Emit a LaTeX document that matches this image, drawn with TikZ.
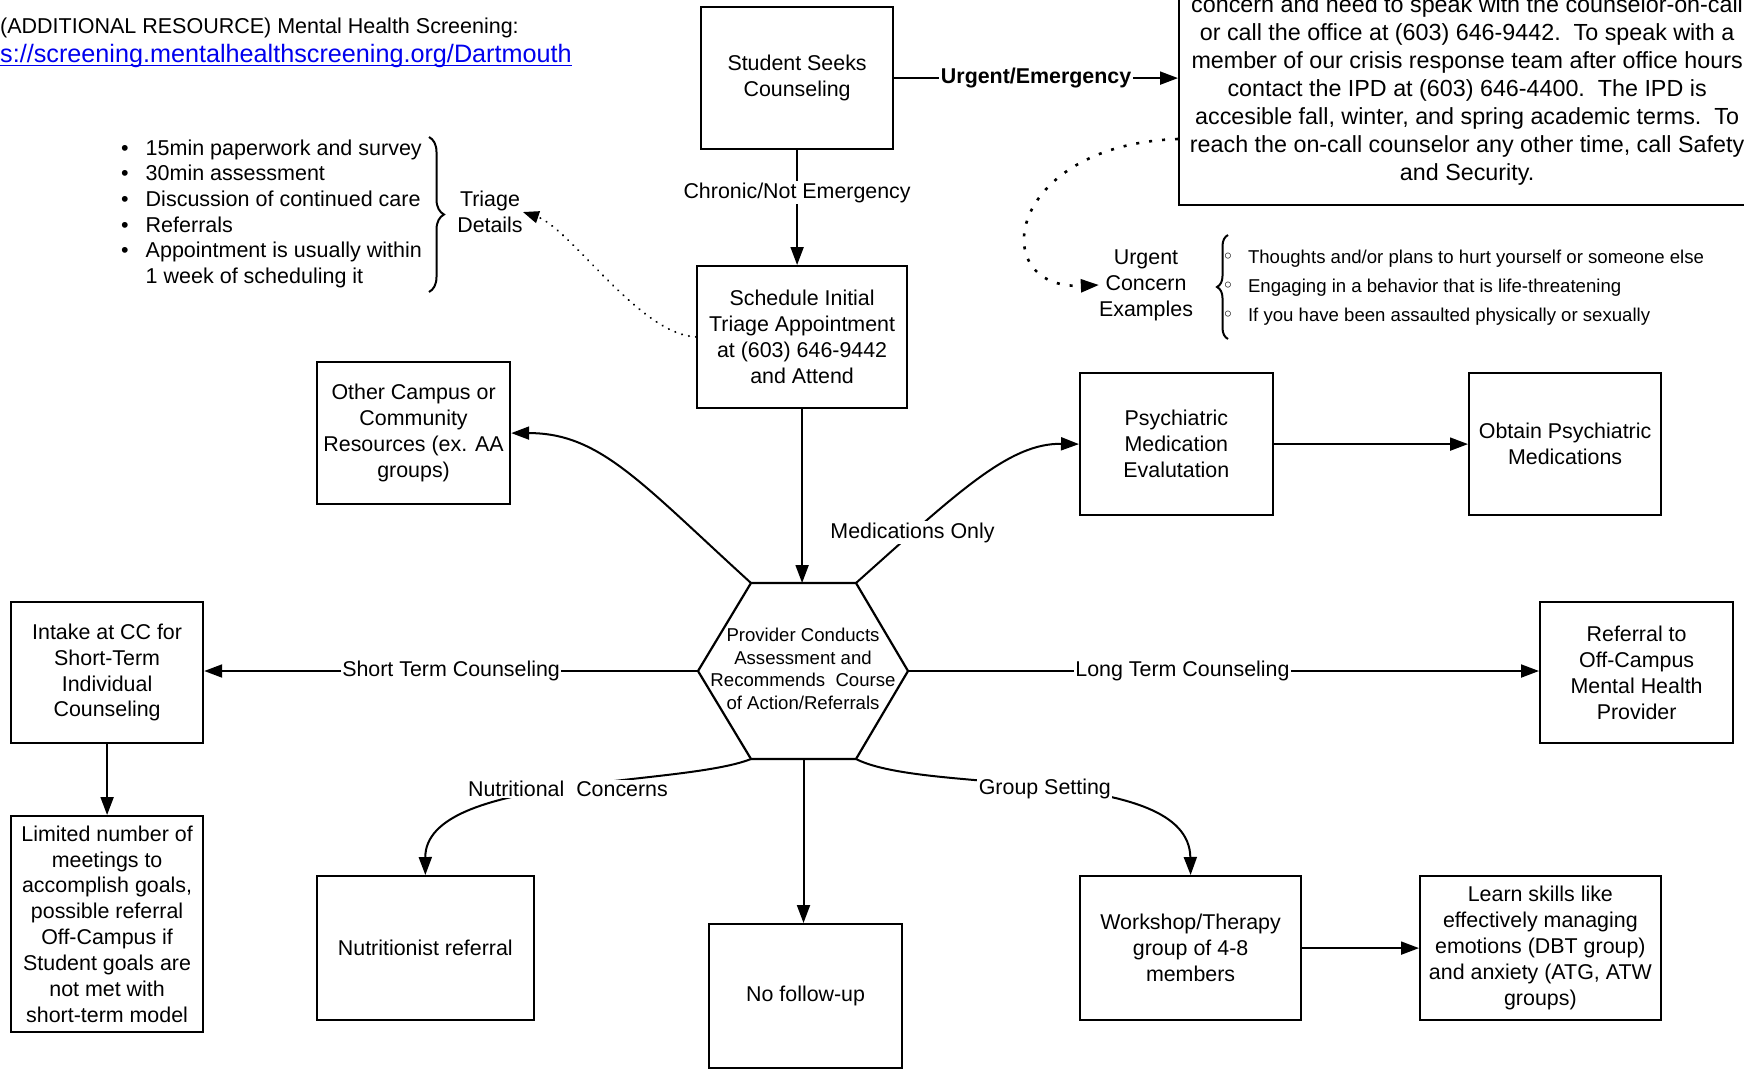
\documentclass[tikz,border=0pt]{standalone}
\usepackage{fontspec}
\setmainfont{Liberation Sans}
\newfontfamily\dejavu{DejaVu Sans}
\usetikzlibrary{arrows.meta,decorations.pathreplacing,calc}
\definecolor{linkblue}{RGB}{0,0,238}
\newcommand\myfbody{\fontsize{21.4}{25.9}\selectfont}
\newcommand\myfsmall{\fontsize{18.6}{22.6}\selectfont}
\newcommand\myfbig{\fontsize{23.3}{28}\selectfont}
\newcommand\mycirc{{\dejavu\fontsize{20}{20}\selectfont ◦}}
\tikzset{
  box/.style={draw, line width=2.2pt, align=center, inner sep=0pt, font=\myfbody, anchor=north west},
  txt/.style={align=center, inner sep=0pt, font=\myfbody},
  plain/.style={inner sep=0pt},
  conn/.style={line width=2pt, -{Triangle[length=18pt,width=13pt]}},
  lbl/.style={fill=white, inner sep=1.5pt, font=\myfbody},
  dotsmall/.style={line width=2.2pt, line cap=round, dash pattern=on 0.1pt off 7pt, -{Triangle[length=16pt,width=12pt]}},
  dotbig/.style={line width=2.6pt, dash pattern=on 3pt off 10pt, -{Triangle[length=18pt,width=13pt]}},
  bracestyle/.style={line width=2pt, decorate},
}
\begin{document}
\begin{tikzpicture}[x=1pt,y=-1pt]
\clip (0,0) rectangle (1744,1070);
\fill[white] (0,0) rectangle (1744,1070);

% header
\node[plain, anchor=base west, font=\fontsize{21.5}{26}\selectfont] (hdr) at (0,34) {(ADDITIONAL RESOURCE) Mental Health Screening:};
\node[plain, anchor=base west, text=linkblue, font=\fontsize{25.2}{30}\selectfont] (url) at (0,63) {s://screening.mentalhealthscreening.org/Dartmouth};
\draw[linkblue, line width=1.6pt] ($(url.base west)+(0,2.5)$) -- ($(url.base east)+(0,2.5)$);

% boxes
\node[box, minimum width=192pt, minimum height=142pt] (student) at (700,6) {Student Seeks\\Counseling};
\node[box, font=\myfbig, minimum width=576pt, minimum height=228.5pt] (bigbox) at (1178,-25) {concern and need to speak with the counselor-on-call\\or call the office at (603) 646-9442.\ \ To speak with a\\member of our crisis response team after office hours\\contact the IPD at (603) 646-4400.\ \ The IPD is\\accesible fall, winter, and spring academic terms.\ \ To\\reach the on-call counselor any other time, call Safety\\and Security.};
\node[box, minimum width=210pt, minimum height=141.5pt] (sched) at (696,265) {Schedule Initial\\Triage Appointment\\at (603) 646-9442\\and Attend};
\node[box, minimum width=193pt, minimum height=142pt] (other) at (316,361) {Other Campus or\\Community\\Resources (ex. AA\\groups)};
\node[box, minimum width=192.5pt, minimum height=142pt] (psych) at (1079,372) {Psychiatric\\Medication\\Evalutation};
\node[box, minimum width=192pt, minimum height=142pt] (obtain) at (1468,372) {Obtain Psychiatric\\Medications};
\node[box, minimum width=192pt, minimum height=141pt] (intake) at (10,601) {Intake at CC for\\Short-Term\\Individual\\Counseling};
\node[box, minimum width=192pt, minimum height=216pt] (limited) at (10,815) {Limited number of\\meetings to\\accomplish goals,\\possible referral\\Off-Campus if\\Student goals are\\not met with\\short-term model};
\node[box, minimum width=193pt, minimum height=141pt] (referral) at (1539,601) {Referral to\\Off-Campus\\Mental Health\\Provider};
\node[box, minimum width=216.5pt, minimum height=144pt] (nutri) at (316,875) {Nutritionist referral};
\node[box, minimum width=193pt, minimum height=144pt] (nofollow) at (708,923) {No follow-up};
\node[box, minimum width=221pt, minimum height=144pt] (workshop) at (1079,875) {Workshop/Therapy\\group of 4-8\\members};
\node[box, minimum width=240.5pt, minimum height=144pt] (learn) at (1419,875) {Learn skills like\\effectively managing\\emotions (DBT group)\\and anxiety (ATG, ATW\\groups)};

% hexagon
\coordinate (hexL) at (698,671);
\coordinate (hexTL) at (751,583);
\coordinate (hexTR) at (856,583);
\coordinate (hexR) at (908,671);
\coordinate (hexBR) at (856,759);
\coordinate (hexBL) at (751,759);
\coordinate (hexB) at (803.5,759);
\draw[line width=2.2pt] (hexL) -- (hexTL) -- (hexTR) -- (hexR) -- (hexBR) -- (hexBL) -- cycle;
\node[txt, font=\myfsmall] (hex) at (803,669) {Provider Conducts\\Assessment and\\Recommends\ \ Course\\of Action/Referrals};

% triage details
\node[plain, anchor=base west, font=\fontsize{21.5}{25.7}\selectfont] (tlist) at (121,155) {\begin{tabular}[t]{@{}l@{\hspace{17pt}}l@{}}
\textbullet&15min paperwork and survey\\
\textbullet&30min assessment\\
\textbullet&Discussion of continued care\\
\textbullet&Referrals\\
\textbullet&Appointment is usually within\\
&1 week of scheduling it
\end{tabular}};
\draw[bracestyle, decoration={brace, amplitude=15pt}] (429,137) -- (429,292);
\node[txt] (triage) at (490,212) {Triage\\Details};

% urgent examples
\node[txt] (ulbl) at (1146,285) {Urgent\\Concern\\Examples};
\draw[bracestyle, decoration={brace, amplitude=11pt}] (1228,339) -- (1228,235);
\node[plain, anchor=base west, font=\fontsize{18.6}{29}\selectfont] (ulist) at (1222,263.5) {\begin{tabular}[t]{@{}l@{\hspace{14pt}}l@{}}
\mycirc&Thoughts and/or plans to hurt yourself or someone else\\
\mycirc&Engaging in a behavior that is life-threatening\\
\mycirc&If you have been assaulted physically or sexually
\end{tabular}};

% connectors
\draw[conn] (student.east) -- node[lbl, font=\myfbody\bfseries] {Urgent/Emergency} (bigbox.west |- student.east);
\draw[conn] (student.south) -- node[lbl, pos=0.37] {Chronic/Not Emergency} (student.south |- sched.north);
\draw[conn] (sched.south) -- (sched.south |- hexTL);
\draw[conn] (hexTL) .. controls (641,483) and (600,433) .. (other.east);
\draw[conn] (hexTR) .. controls (960,490) and (1010,443) .. node[lbl, pos=0.2] {Medications Only} (psych.west);
\draw[conn] (psych.east) -- (obtain.west);
\draw[conn] (hexL) -- node[lbl] {Short Term Counseling} (hexL -| intake.east);
\draw[conn] (hexR) -- node[lbl, pos=0.435] {Long Term Counseling} (hexR -| referral.west);
\draw[conn] (intake.south) -- (limited.north);
\draw[conn] (hexBL) .. controls (680,787) and (425,775) .. node[lbl, pos=0.485] {Nutritional\ \ Concerns} (nutri.north);
\draw[conn] (hexB) -- (hexB |- nofollow.north);
\draw[conn] (hexBR) .. controls (927,795) and (1189,765) .. node[lbl, pos=0.49] {Group Setting} (workshop.north);
\draw[conn] (workshop.east) -- (learn.west);

% dotted connectors
\draw[dotsmall] (sched.west) .. controls (640,335) and (570,228) .. (triage.east);
\coordinate (ustart) at (1178,139);
\draw[dotbig] (ustart) .. controls (1005,145) and (985,290) .. (ulbl.west);
\end{tikzpicture}
\end{document}
